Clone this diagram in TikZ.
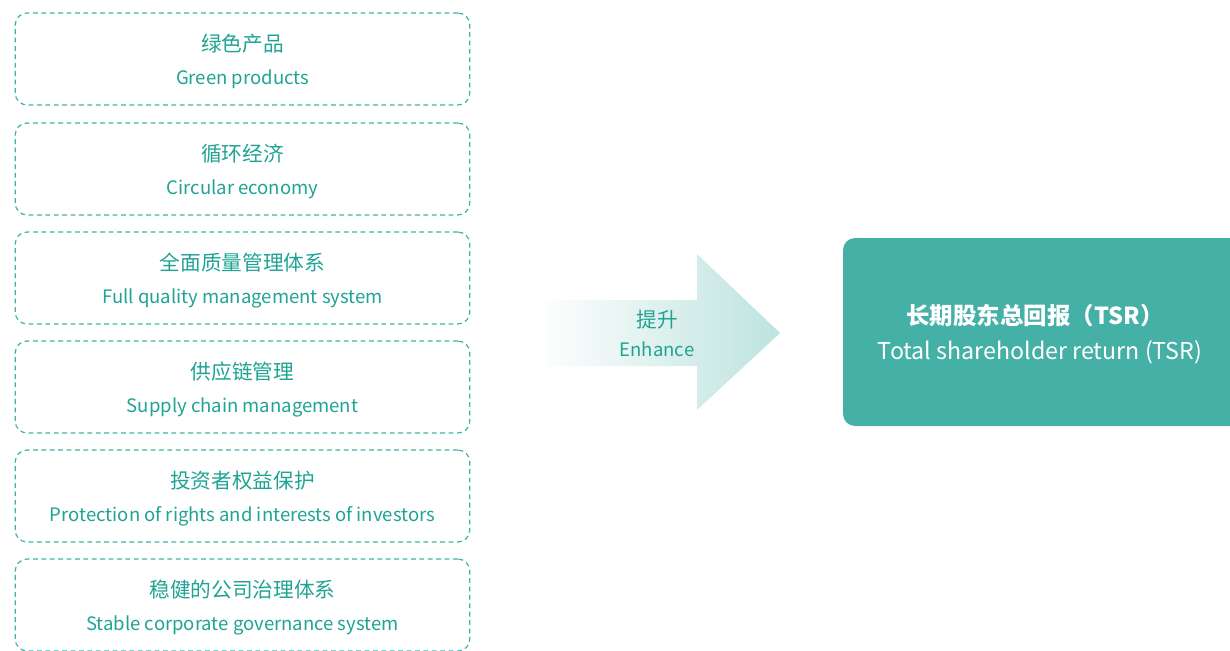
\documentclass[tikz,border=0pt]{standalone}
\usepackage{fontspec}
\setmainfont{Noto Sans CJK SC}
\newfontfamily\cjk{Noto Sans CJK SC}
\definecolor{tealtext}{HTML}{1FA393}
\definecolor{tealline}{HTML}{3DB3A8}
\definecolor{tealfill}{HTML}{45B0A6}
\definecolor{arrowteal}{HTML}{BDE3DE}
\begin{document}
\begin{tikzpicture}[x=0.75pt,y=-0.75pt,
  dbox/.style={draw=tealline, line width=0.9pt, dash pattern=on 3.6pt off 2.7pt,
    rounded corners=9pt, minimum width=341pt, minimum height=69pt, inner sep=0pt},
  cntext/.style={text=tealtext, font=\cjk\fontsize{15.5}{18}\selectfont, inner sep=0pt},
  entext/.style={text=tealtext, font=\fontsize{13.9}{16}\selectfont, inner sep=0pt},
  tsrbox/.style={fill=tealfill, rounded corners=9pt, minimum width=300pt, minimum height=141pt, inner sep=0pt}]
\useasboundingbox (0,0) rectangle (1230,650);
\clip (0,0) rectangle (1230,650);
% left boxes
\foreach \i/\y/\cn/\en in {1/59/绿色产品/Green products,
  2/169/循环经济/Circular economy,
  3/278/全面质量管理体系/Full quality management system,
  4/387/供应链管理/Supply chain management,
  5/496/投资者权益保护/Protection of rights and interests of investors,
  6/605/稳健的公司治理体系/Stable corporate governance system}{
  \node[dbox] (b\i) at (242.5,\y) {};
  \node[cntext] (c\i) at ([yshift=11.5pt]b\i.center) {\cn};
  \node[entext] (e\i) at ([yshift=-15.5pt]b\i.center) {\en};
}
% block arrow
\shade[left color=white, right color=arrowteal]
  (537,300) -- (697,300) -- (697,254) -- (780,333) -- (697,410) -- (697,366) -- (537,366) -- cycle;
\node[cntext] (up) at (657,320) {提升};
\node[entext] (enh) at (657,349) {Enhance};
% TSR box
\node[tsrbox] (tsr) at (1043,332) {};
\node[text=white, font=\cjk\bfseries\fontsize{17.6}{20}\selectfont, inner sep=0pt] (tc) at (1035,316) {长期股东总回报（TSR）};
\node[text=white, font=\fontsize{17.4}{20}\selectfont, inner sep=0pt] (te) at (1040,352) {Total shareholder return (TSR)};
\end{tikzpicture}
\end{document}
